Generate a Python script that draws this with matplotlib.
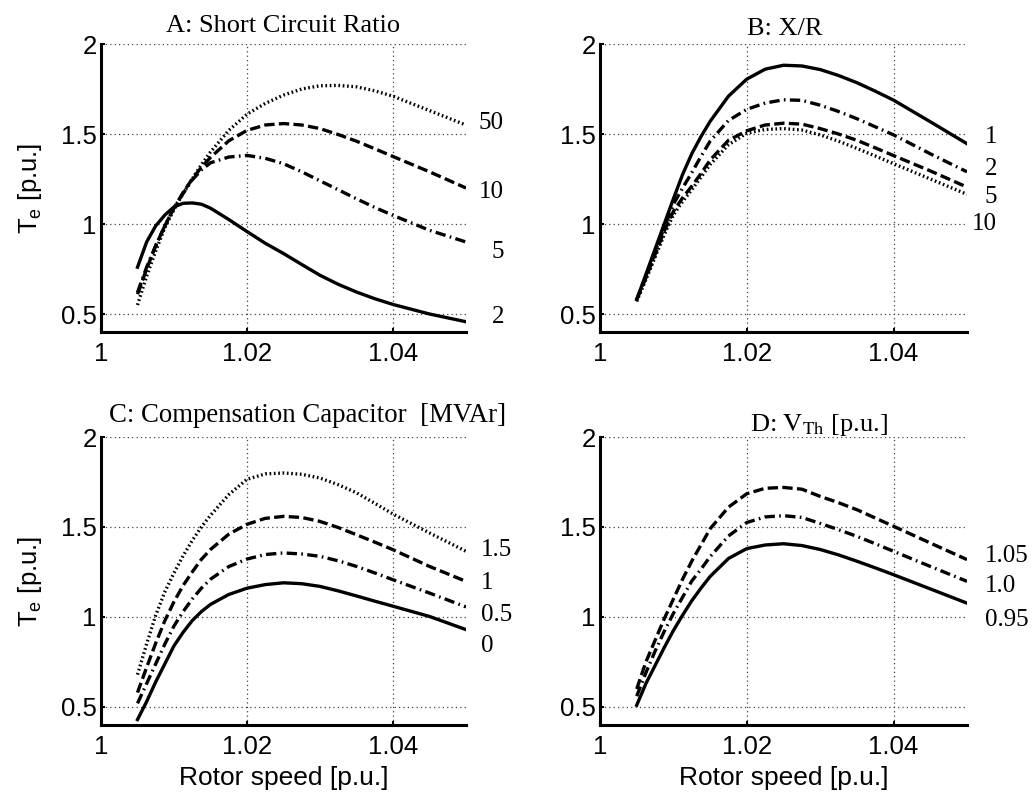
import matplotlib
matplotlib.use("Agg")
import matplotlib.pyplot as plt

plt.rcParams['font.family'] = ['Liberation Sans', 'DejaVu Sans']
plt.rcParams['mathtext.fontset'] = 'custom'
plt.rcParams['mathtext.rm'] = 'Liberation Sans'
plt.rcParams['mathtext.it'] = 'Liberation Sans:italic'

# ---------------- data ----------------
omega = [1.005, 1.00625, 1.0075, 1.00875, 1.01, 1.01125, 1.0125, 1.01375, 1.015,
         1.0175, 1.02, 1.0225, 1.025, 1.0275, 1.03, 1.0325, 1.035, 1.0375, 1.04,
         1.045, 1.05]

# A: Short circuit ratio
scr_labels = ['2', '5', '10', '50']
scr2 = [0.76, 0.90, 0.99, 1.05, 1.095, 1.115, 1.117, 1.11, 1.088, 1.025, 0.958,
        0.893, 0.836, 0.775, 0.715, 0.665, 0.622, 0.585, 0.553, 0.50, 0.457]
scr5 = [0.62, 0.76, 0.88, 0.99, 1.09, 1.17, 1.245, 1.30, 1.34, 1.372, 1.381,
        1.365, 1.335, 1.29, 1.24, 1.19, 1.14, 1.092, 1.048, 0.965, 0.90]
scr10 = [0.61, 0.75, 0.88, 0.99, 1.09, 1.175, 1.25, 1.315, 1.37, 1.462, 1.52,
         1.55, 1.558, 1.55, 1.53, 1.497, 1.46, 1.418, 1.375, 1.29, 1.20]
scr50 = [0.55, 0.71, 0.85, 0.98, 1.08, 1.17, 1.25, 1.33, 1.40, 1.52, 1.61,
         1.67, 1.716, 1.75, 1.768, 1.77, 1.762, 1.74, 1.71, 1.63, 1.55]
scr_label_y = [0.485, 0.846, 1.18, 1.559]

# B: X/R
xr_labels = ['1', '2', '5', '10']
xr1 = [0.58, 0.72, 0.86, 1.00, 1.14, 1.275, 1.39, 1.485, 1.57, 1.71, 1.805,
       1.86, 1.882, 1.878, 1.858, 1.825, 1.785, 1.738, 1.688, 1.568, 1.446]
xr2 = [0.58, 0.71, 0.845, 0.98, 1.11, 1.20, 1.285, 1.375, 1.46, 1.575, 1.637,
       1.672, 1.69, 1.687, 1.66, 1.625, 1.585, 1.54, 1.495, 1.39, 1.29]
xr5 = [0.58, 0.70, 0.83, 0.96, 1.07, 1.145, 1.21, 1.28, 1.355, 1.465, 1.518,
       1.55, 1.56, 1.555, 1.53, 1.50, 1.465, 1.423, 1.38, 1.295, 1.205]
xr10 = [0.57, 0.69, 0.815, 0.94, 1.05, 1.125, 1.19, 1.26, 1.33, 1.44, 1.505,
        1.525, 1.53, 1.522, 1.495, 1.46, 1.42, 1.378, 1.335, 1.25, 1.165]
xr_label_y = [1.483, 1.308, 1.15, 0.998]

# C: Compensation capacitor [MVAr]
cap_labels = ['0', '0.5', '1', '1.5']
cap0 = [0.43, 0.53, 0.64, 0.74, 0.84, 0.915, 0.98, 1.03, 1.07, 1.125, 1.16,
        1.18, 1.19, 1.185, 1.17, 1.145, 1.117, 1.088, 1.06, 1.003, 0.93]
cap05 = [0.52, 0.63, 0.74, 0.85, 0.95, 1.03, 1.10, 1.16, 1.21, 1.28, 1.322,
         1.347, 1.356, 1.35, 1.337, 1.312, 1.281, 1.245, 1.207, 1.133, 1.056]
cap1 = [0.58, 0.72, 0.855, 0.98, 1.085, 1.175, 1.25, 1.32, 1.375, 1.46, 1.515,
        1.548, 1.559, 1.553, 1.531, 1.497, 1.457, 1.416, 1.374, 1.281, 1.198]
cap15 = [0.68, 0.85, 1.01, 1.14, 1.245, 1.34, 1.425, 1.50, 1.565, 1.68, 1.765,
         1.795, 1.80, 1.793, 1.772, 1.735, 1.69, 1.632, 1.572, 1.467, 1.365]
cap_label_y = [0.837, 1.013, 1.19, 1.374]

# D: Thevenin voltage [p.u.]
vth_labels = ['0.95', '1.0', '1.05']
vth095 = [0.51, 0.63, 0.73, 0.83, 0.925, 1.01, 1.09, 1.16, 1.225, 1.325, 1.38,
          1.40, 1.407, 1.397, 1.375, 1.345, 1.31, 1.273, 1.235, 1.156, 1.077]
vth100 = [0.56, 0.69, 0.81, 0.92, 1.02, 1.11, 1.20, 1.265, 1.335, 1.45, 1.525,
          1.556, 1.563, 1.553, 1.52, 1.485, 1.448, 1.407, 1.365, 1.281, 1.198]
vth105 = [0.60, 0.75, 0.87, 0.99, 1.10, 1.21, 1.31, 1.40, 1.49, 1.61, 1.685,
          1.715, 1.72, 1.71, 1.67, 1.635, 1.596, 1.55, 1.504, 1.411, 1.319]
vth_label_y = [0.985, 1.17, 1.341]

xticks = [1.0, 1.02, 1.04]
xticklabels = ['1', '1.02', '1.04']
yticks = [0.5, 1.0, 1.5, 2.0]
yticklabels = ['0.5', '1', '1.5', '2']

# ---------------- style ----------------
LW = 2.4
SOLID = '-'
DASH = (0, (3.1, 1.3))
DASHDOT = (0, (3.1, 1.3, 0.5, 1.3))
DOT = (0, (0.5, 0.8))
SERIF = ['Liberation Serif', 'DejaVu Serif']

fig = plt.figure(figsize=(10.36, 7.94), dpi=100)
W, H = 1036, 794


def make_axes(left_px, top_px, right_px, bottom_px):
    return fig.add_axes([left_px / W, 1 - bottom_px / H,
                         (right_px - left_px) / W, (bottom_px - top_px) / H])


axA = make_axes(101, 44, 466, 332)
axB = make_axes(600, 44, 967, 332)
axC = make_axes(101, 437, 466, 725)
axD = make_axes(600, 437, 967, 725)


def style(ax):
    ax.set_xlim(1.0, 1.05)
    ax.set_ylim(0.4, 2.0)
    ax.set_xticks(xticks)
    ax.set_xticklabels(xticklabels)
    ax.set_yticks(yticks)
    ax.set_yticklabels(yticklabels)
    for s in ['top', 'right']:
        ax.spines[s].set_visible(False)
    for s in ['left', 'bottom']:
        ax.spines[s].set_linewidth(2.2)
    ax.tick_params(direction='in', length=3, width=1.5, labelsize=18.5)
    ax.tick_params(axis='x', pad=7)
    ax.tick_params(axis='y', pad=3)
    ax.grid(True, linestyle=(0, (1, 2.5)), color='0.25', linewidth=0.9)
    ax.set_axisbelow(True)


for ax in (axA, axB, axC, axD):
    style(ax)


def curve(ax, y, ls):
    ax.plot(omega, y, color='black', linestyle=ls, linewidth=LW,
            solid_joinstyle='round', dash_joinstyle='round')


def labels(ax, texts, ys, x, ha):
    for t, y in zip(texts, ys):
        ax.text(x, y, t, ha=ha, va='center', fontsize=18, family=SERIF,
                clip_on=False)


# A
curve(axA, scr2, SOLID)
curve(axA, scr5, DASHDOT)
curve(axA, scr10, DASH)
curve(axA, scr50, DOT)
labels(axA, scr_labels, scr_label_y, 1.0552, 'right')
axA.text(0.5, 1.042, 'A: Short Circuit Ratio', transform=axA.transAxes,
         ha='center', va='baseline', fontsize=19, family=SERIF)

# B
curve(axB, xr1, SOLID)
curve(axB, xr2, DASHDOT)
curve(axB, xr5, DASH)
curve(axB, xr10, DOT)
labels(axB, xr_labels, xr_label_y, 1.0541, 'right')
axB.text(0.504, 1.031, 'B: X/R', transform=axB.transAxes,
         ha='center', va='baseline', fontsize=19, family=SERIF)

# C
curve(axC, cap0, SOLID)
curve(axC, cap05, DASHDOT)
curve(axC, cap1, DASH)
curve(axC, cap15, DOT)
labels(axC, cap_labels, cap_label_y, 1.0521, 'left')
axC.text(0.566, 1.051, 'C: Compensation Capacitor  [MVAr]', transform=axC.transAxes,
         ha='center', va='baseline', fontsize=19.3, family=SERIF)

# D
curve(axD, vth095, SOLID)
curve(axD, vth100, DASHDOT)
curve(axD, vth105, DASH)
labels(axD, vth_labels, vth_label_y, 1.0524, 'left')
axD.text(0.597, 1.02, r'D: $\mathrm{V_{Th}}$ [p.u.]', transform=axD.transAxes,
         ha='center', va='baseline', fontsize=19, family=SERIF,
         math_fontfamily='stix')

# axis labels
for ax in (axA, axC):
    ax.set_ylabel(r'T$_{\rm e}$ [p.u.]', fontsize=18.5)
    ax.yaxis.label.set_va('center')
    ax.yaxis.set_label_coords(-0.195, 0.5)
for ax in (axC, axD):
    ax.set_xlabel('Rotor speed [p.u.]', fontsize=19)
    ax.xaxis.label.set_va('center')
    ax.xaxis.set_label_coords(0.5, -0.184)

fig.savefig('out.png', dpi=100)
